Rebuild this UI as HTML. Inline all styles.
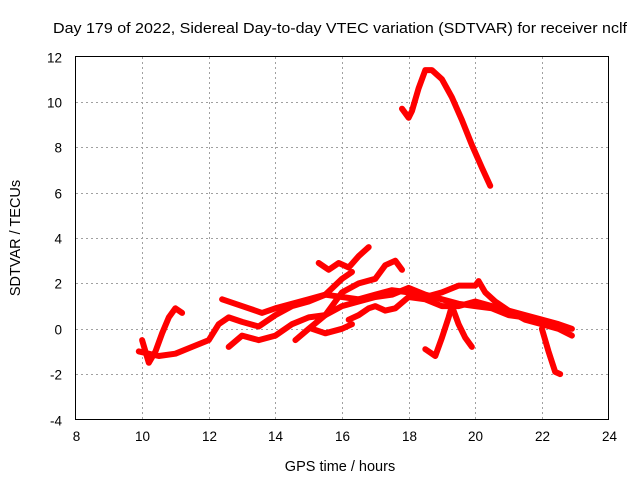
<!DOCTYPE html>
<html><head><meta charset="utf-8"><style>
body{margin:0;background:#fff}
svg{display:block;font-family:"Liberation Sans",sans-serif}
</style></head><body>
<svg id="c" width="640" height="480">
<text x="340" y="33" font-size="15" text-anchor="middle" textLength="574" lengthAdjust="spacingAndGlyphs">Day 179 of 2022, Sidereal Day-to-day VTEC variation (SDTVAR) for receiver nclf</text>
<text x="340" y="471" font-size="14.5" text-anchor="middle">GPS time / hours</text>
<text transform="translate(20,238) rotate(-90)" font-size="14.5" text-anchor="middle">SDTVAR / TECUs</text>
<g id="grid"></g><g id="ticks"></g><g id="series"></g>
<rect x="75.5" y="56.5" width="533" height="363" fill="none" stroke="#000"/>
</svg>
<script>
const xTicks=[8,10,12,14,16,18,20,22,24];
const yTicks=[-4,-2,0,2,4,6,8,10,12];
const trackA=[[17.8,9.7],[17.9,9.5],[18.0,9.3],[18.1,9.6],[18.3,10.6],[18.5,11.4],[18.7,11.4],[19.0,11.0],[19.3,10.2],[19.6,9.2],[19.9,8.1],[20.2,7.1],[20.45,6.3]];
const trackB=[[15.3,2.9],[15.6,2.6],[15.9,2.9],[16.2,2.7],[16.5,3.2],[16.8,3.6]];
const trackC=[[10.0,-0.5],[10.2,-1.5],[10.4,-1.0],[10.6,-0.2],[10.8,0.5],[11.0,0.9],[11.2,0.7]];
const trackD=[[9.9,-1.0],[10.5,-1.2],[11.0,-1.1],[11.5,-0.8],[12.0,-0.5],[12.3,0.2],[12.6,0.5],[13.0,0.3],[13.5,0.1],[14.0,0.6],[14.5,1.0],[15.0,1.2],[15.5,1.5],[16.0,2.2],[16.3,2.5]];
const trackE=[[12.4,1.3],[12.8,1.1],[13.2,0.9],[13.6,0.7],[14.0,0.9],[14.5,1.1],[15.0,1.3],[15.5,1.5],[16.0,1.4],[16.5,1.3],[17.0,1.5],[17.5,1.7],[18.0,1.6],[18.5,1.4],[19.0,1.6],[19.5,1.9],[20.0,1.9],[20.1,2.1],[20.3,1.6],[20.6,1.2],[21.0,0.8],[21.5,0.6],[22.0,0.4],[22.5,0.2],[22.9,0.0]];
const trackF=[[12.6,-0.8],[13.0,-0.3],[13.5,-0.5],[14.0,-0.3],[14.5,0.2],[15.0,0.5],[15.5,0.6],[16.0,1.0],[16.5,1.2],[17.0,1.4],[17.5,1.5],[18.0,1.8],[18.5,1.5],[19.0,1.3],[19.5,1.1],[20.0,1.0],[20.5,0.9],[21.0,0.6],[21.5,0.5],[22.0,0.2],[22.5,0.0],[22.9,-0.3]];
const trackG=[[14.6,-0.5],[15.0,0.0],[15.5,0.6],[16.0,1.6],[16.5,2.0],[17.0,2.2],[17.3,2.8],[17.6,3.0],[17.8,2.6]];
const trackH=[[15.1,0.0],[15.5,-0.2],[16.0,0.0],[16.3,0.2]];
const trackI=[[16.2,0.4],[16.5,0.6],[16.8,0.9],[17.0,1.0],[17.3,0.8],[17.6,0.9],[18.0,1.4],[18.5,1.3],[19.0,1.0],[19.5,1.0],[20.0,1.2],[20.5,1.0],[21.0,0.8],[21.5,0.4],[22.0,0.2]];
const trackJ=[[18.5,-0.9],[18.8,-1.2],[19.0,-0.4],[19.2,0.5],[19.3,1.0]];
const trackK=[[19.3,1.0],[19.5,0.2],[19.7,-0.4],[19.9,-0.8]];
const trackL=[[22.0,0.0],[22.2,-1.0],[22.4,-1.9],[22.55,-2.0]];
const tracks=[trackA,trackB,trackC,trackD,trackE,trackF,trackG,trackH,trackI,trackJ,trackK,trackL];
const NS="http://www.w3.org/2000/svg";
const X=v=>75.5+(v-8)*533/16, Y=v=>419.5-(v+4)*363/16;
function mk(t,a,p){const e=document.createElementNS(NS,t);for(const k in a)e.setAttribute(k,a[k]);p.appendChild(e);return e;}
const g=document.getElementById('grid'),tk=document.getElementById('ticks'),s=document.getElementById('series');
xTicks.forEach(v=>{const x=Math.round(X(v))+0.5;
 if(v>8&&v<24){const l=mk('line',{x1:x,x2:x,y1:57,y2:419,stroke:'#a0a0a0','stroke-dasharray':'2,3'},g);
 
 }
 const t=mk('text',{x:x,y:441,'font-size':13.5,'text-anchor':'middle'},tk);t.textContent=v;
 
 });
yTicks.forEach(v=>{const y=Math.round(Y(v))+0.5;
 if(v>-4&&v<12){const l=mk('line',{x1:76,x2:608,y1:y,y2:y,stroke:'#a0a0a0','stroke-dasharray':'2,3'},g);
 
 }
 const t=mk('text',{x:62,y:y+5,'font-size':13.5,'text-anchor':'end'},tk);t.textContent=v;
 
 });
tracks.forEach(tr=>{const p=mk('polyline',{points:tr.map(d=>X(d[0]).toFixed(1)+','+Y(d[1]).toFixed(1)).join(' '),fill:'none',stroke:'#ff0000','stroke-width':6,'stroke-linejoin':'round','stroke-linecap':'round'},s);
 
 });
</script>
</body></html>
